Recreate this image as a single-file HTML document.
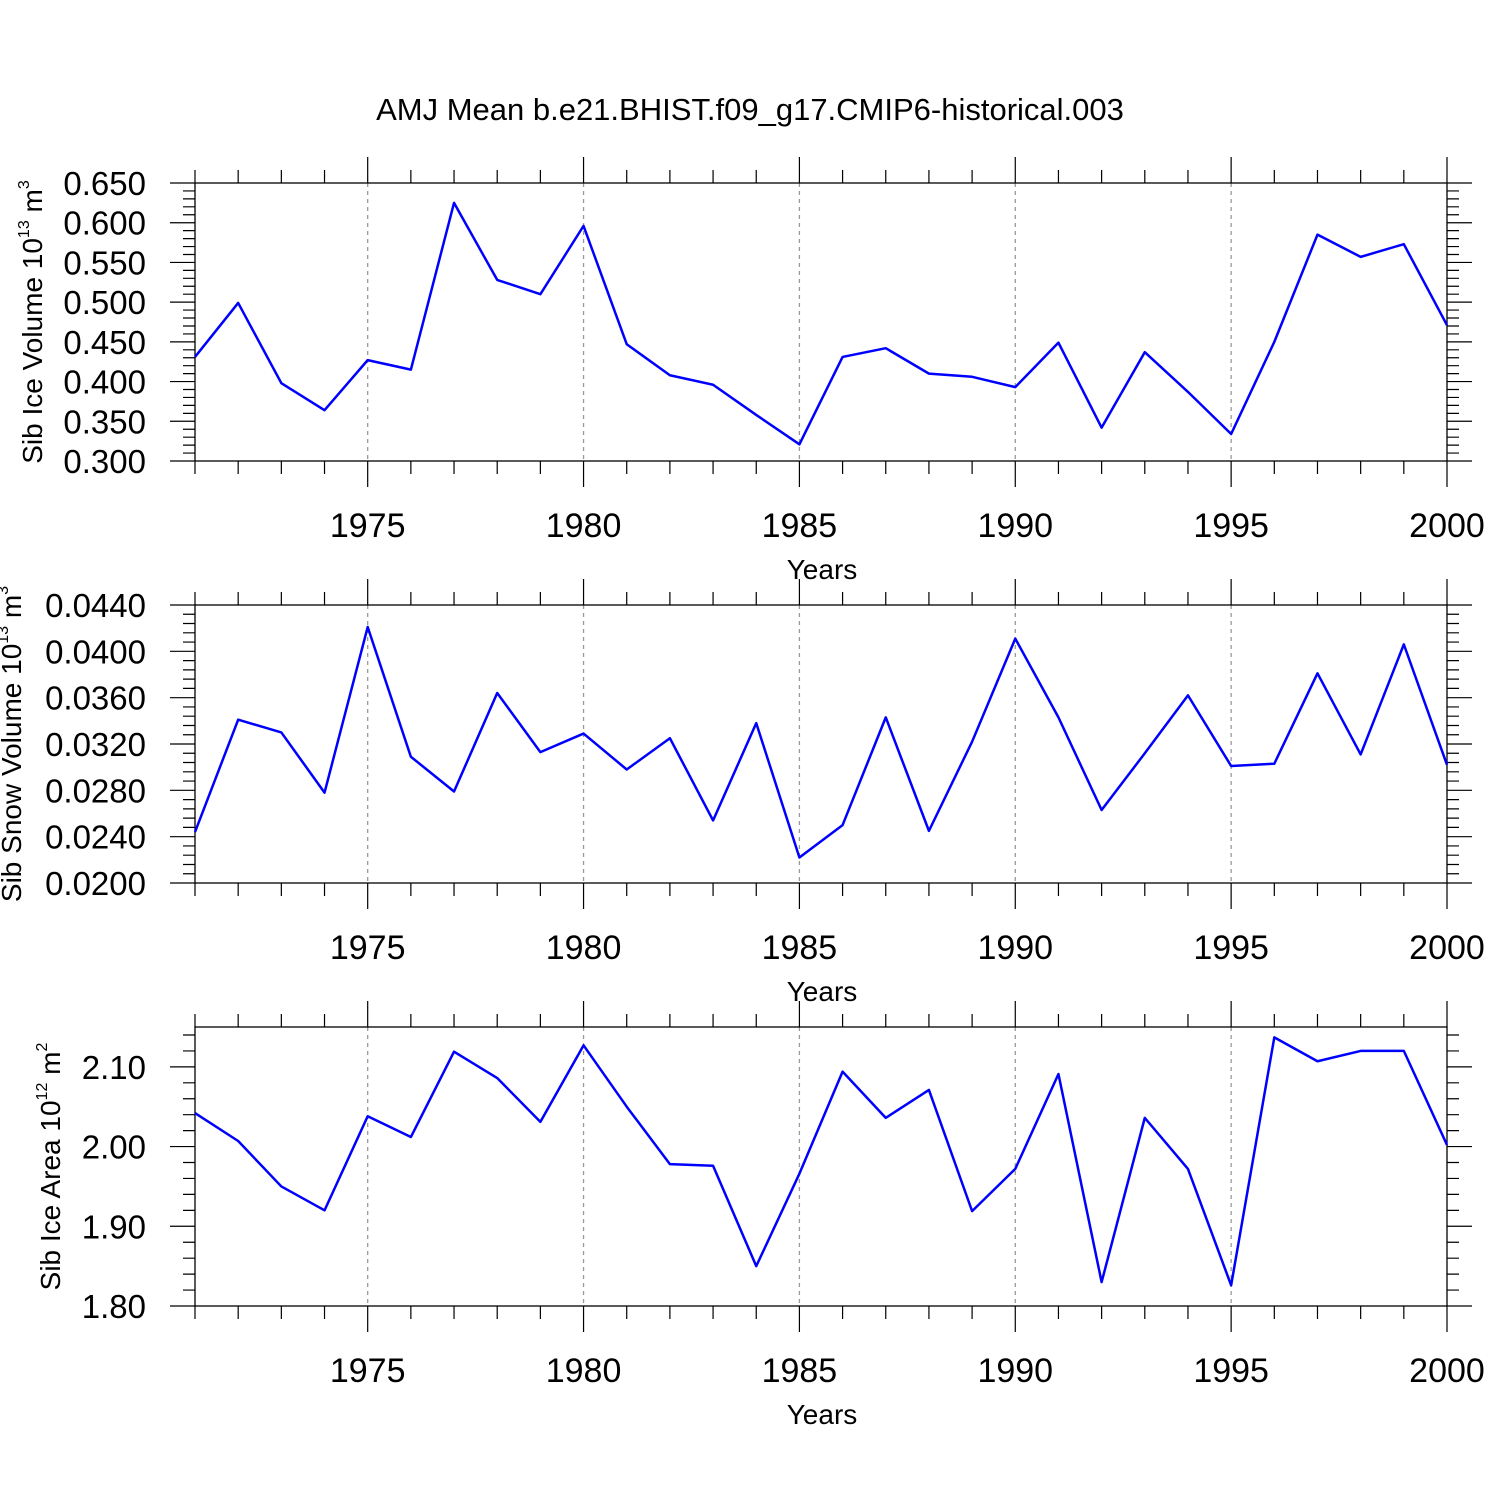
<!DOCTYPE html>
<html><head><meta charset="utf-8"><style>
body{margin:0;background:#fff}
svg text{font-family:"Liberation Sans",Arial,sans-serif;fill:#000}
</style></head><body>
<svg id="c" width="1500" height="1500" xmlns="http://www.w3.org/2000/svg">
<text x="750" y="120" font-size="31" text-anchor="middle">AMJ Mean b.e21.BHIST.f09_g17.CMIP6-historical.003</text>
</svg>
<script>
const years=[1971,1972,1973,1974,1975,1976,1977,1978,1979,1980,1981,1982,1983,1984,1985,1986,1987,1988,1989,1990,1991,1992,1993,1994,1995,1996,1997,1998,1999,2000];
const iceVolume=[0.431,0.499,0.398,0.364,0.427,0.415,0.625,0.528,0.510,0.596,0.447,0.408,0.396,0.358,0.321,0.431,0.442,0.410,0.406,0.393,0.449,0.342,0.437,0.387,0.334,0.450,0.585,0.557,0.573,0.471];
const snowVolume=[0.0244,0.0341,0.0330,0.0278,0.0421,0.0309,0.0279,0.0364,0.0313,0.0329,0.0298,0.0325,0.0254,0.0338,0.0222,0.0250,0.0343,0.0245,0.0322,0.0411,0.0343,0.0263,0.0312,0.0362,0.0301,0.0303,0.0381,0.0311,0.0406,0.0302];
const iceArea=[2.042,2.007,1.950,1.920,2.038,2.012,2.119,2.086,2.031,2.127,2.050,1.978,1.976,1.850,1.966,2.094,2.036,2.071,1.919,1.972,2.091,1.830,2.036,1.972,1.826,2.137,2.107,2.120,2.120,2.002];
const xTicks=[1975,1980,1985,1990,1995,2000];
const ticks1=[0.300,0.350,0.400,0.450,0.500,0.550,0.600,0.650];
const ticks2=[0.0200,0.0240,0.0280,0.0320,0.0360,0.0400,0.0440];
const ticks3=[1.80,1.90,2.00,2.10];
const svg=document.getElementById('c');
const NS='http://www.w3.org/2000/svg';
function mk(tag,a,parent){const e=document.createElementNS(NS,tag);for(const k in a)e.setAttribute(k,a[k]);(parent||svg).appendChild(e);return e;}
const X0=195,X1=1447;
function xs(y){return X0+(y-1971)/(2000-1971)*(X1-X0);}
function panel(id,top,bot,ymin,ymax,ticks,minorStep,dec,data,titleParts,titleX){
  const g=mk('g',{});
  
  
  const ys=v=>bot-(v-ymin)/(ymax-ymin)*(bot-top);
  xTicks.slice(0,5).forEach(t=>{const l=mk('line',{x1:xs(t),x2:xs(t),y1:top,y2:bot,stroke:'#999','stroke-width':1.3,'stroke-dasharray':'4,4'},g);
    });
  const fr=mk('rect',{x:X0,y:top,width:X1-X0,height:bot-top,fill:'none',stroke:'#000','stroke-width':1.3},g);
  
  let p='';
  for(let y=1971;y<=2000;y++){const x=xs(y),maj=xTicks.includes(y);const L=maj?26:13;
    p+=`M${x},${top}V${top-L}M${x},${bot}V${bot+L}`;}
  for(let v=ymin;v<=ymax+1e-9;v+=minorStep){const y=ys(v);const maj=ticks.some(t=>Math.abs(t-v)<minorStep/10);const L=maj?25:12;
    p+=`M${X0},${y}H${X0-L}M${X1},${y}H${X1+L}`;}
  const tk=mk('path',{d:p,stroke:'#000','stroke-width':1.2,fill:'none'},g);
  
  xTicks.forEach(t=>{const e=mk('text',{x:xs(t),y:bot+76,'font-size':34,'text-anchor':'middle'},g);e.textContent=t;
    });
  const xt=mk('text',{x:822,y:bot+118,'font-size':28,'text-anchor':'middle'},g);xt.textContent='Years';
  
  ticks.forEach(t=>{const e=mk('text',{x:146,y:ys(t)+12,'font-size':33,'text-anchor':'end'},g);e.textContent=t.toFixed(dec);
    });
  const cy=(top+bot)/2;
  const yt=mk('text',{x:0,y:0,'font-size':28,'text-anchor':'middle',transform:`translate(${titleX},${cy}) rotate(-90)`},g);
  
  const a=document.createElementNS(NS,'tspan');a.textContent=titleParts[0];yt.appendChild(a);
  const s=document.createElementNS(NS,'tspan');s.setAttribute('dy','-13');s.setAttribute('font-size','16');s.textContent=titleParts[1];yt.appendChild(s);
  const b=document.createElementNS(NS,'tspan');b.setAttribute('dy','13');b.textContent=' m';yt.appendChild(b);
  const s2=document.createElementNS(NS,'tspan');s2.setAttribute('dy','-13');s2.setAttribute('font-size','16');s2.textContent=titleParts[2];yt.appendChild(s2);
  const pts=data.map((v,i)=>xs(years[i])+','+ys(v)).join(' ');
  const ln=mk('polyline',{points:pts,fill:'none',stroke:'#0000ff','stroke-width':2.5,'stroke-linejoin':'round'},g);
  
}
panel('ice-volume',183,461,0.300,0.650,ticks1,0.01,3,iceVolume,['Sib Ice Volume 10','13','3'],42);
panel('snow-volume',605,883,0.0200,0.0440,ticks2,0.0008,4,snowVolume,['Sib Snow Volume 10','13','3'],21);
panel('ice-area',1027,1306,1.80,2.15,ticks3,0.02,2,iceArea,['Sib Ice Area 10','12','2'],60);
</script>
</body></html>
